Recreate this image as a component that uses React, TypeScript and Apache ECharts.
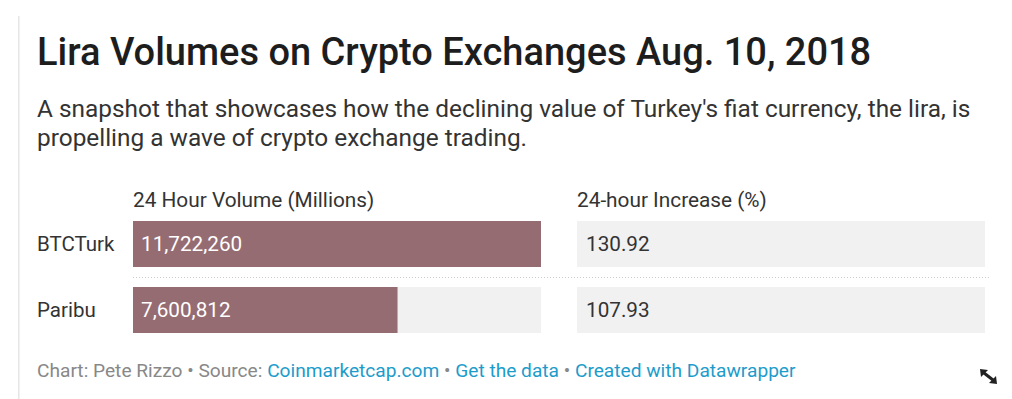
import React, { useEffect, useRef } from "react";
import * as echarts from "echarts";

const categories = ["BTCTurk", "Paribu"];
const volumes = [11722260, 7600812];
const increases = [130.92, 107.93];
const volumeHeader = "24 Hour Volume (Millions)";
const increaseHeader = "24-hour Increase (%)";
const titleText = "Lira Volumes on Crypto Exchanges Aug. 10, 2018";
const subtitleLines = [
  "A snapshot that showcases how the declining value of Turkey's fiat currency, the lira, is",
  "propelling a wave of crypto exchange trading.",
];

const FONT = "Roboto, 'Noto Sans', sans-serif";

export default function App() {
  const ref = useRef<HTMLDivElement>(null);
  useEffect(() => {
    if (!ref.current) return;
    const chart = echarts.init(ref.current, null, { renderer: "svg" });
    const fmt = (v: number) => v.toLocaleString("en-US");
    chart.setOption({
      animation: false,
      backgroundColor: "#ffffff",
      textStyle: { fontFamily: FONT },
      grid: [
        { left: 133, top: 211, width: 408, height: 132 },
        { left: 577, top: 211, width: 408, height: 132 },
      ],
      xAxis: [
        { type: "value", gridIndex: 0, min: 0, max: Math.max(...volumes), show: false },
        { type: "value", gridIndex: 1, min: 0, max: 1000, show: false },
      ],
      yAxis: [
        {
          type: "category",
          gridIndex: 0,
          data: categories,
          inverse: true,
          axisLine: { show: false },
          axisTick: { show: false },
          axisLabel: {
            align: "left",
            margin: 96,
            fontSize: 20.5,
            color: "#333333",
            fontFamily: FONT,
          },
        },
        {
          type: "category",
          gridIndex: 1,
          data: categories,
          inverse: true,
          axisLine: { show: false },
          axisTick: { show: false },
          axisLabel: { show: false },
        },
      ],
      series: [
        {
          type: "bar",
          xAxisIndex: 0,
          yAxisIndex: 0,
          data: volumes,
          barWidth: 46,
          itemStyle: { color: "#966c73" },
          showBackground: true,
          backgroundStyle: { color: "#f1f1f1" },
          label: {
            show: true,
            position: "insideLeft",
            distance: 8,
            color: "#ffffff",
            fontSize: 20.7,
            fontFamily: FONT,
            formatter: (p: any) => fmt(p.value),
          },
        },
        {
          type: "bar",
          xAxisIndex: 1,
          yAxisIndex: 1,
          data: increases,
          barWidth: 46,
          itemStyle: { color: "rgba(0,0,0,0)" },
          showBackground: true,
          backgroundStyle: { color: "#f1f1f1" },
          label: {
            show: true,
            position: "insideLeft",
            distance: 9,
            color: "#333333",
            fontSize: 20.7,
            fontFamily: FONT,
            formatter: (p: any) => p.value.toFixed(2),
          },
        },
      ],
      graphic: [
        {
          type: "rect",
          shape: { x: 18, y: 16, width: 1.5, height: 400 },
          style: { fill: "#e6e6e6" },
          silent: true,
        },
        {
          type: "text",
          x: 37,
          y: 52,
          style: {
            text: titleText,
            font: `500 38px ${FONT}`,
            fill: "#1d1d1d",
            verticalAlign: "middle",
          },
        },
        ...subtitleLines.map((t, i) => ({
          type: "text",
          x: 37,
          y: 108 + i * 29,
          style: {
            text: t,
            font: `400 24.4px ${FONT}`,
            fill: "#333333",
            verticalAlign: "middle",
          },
        })),
        {
          type: "text",
          x: 133,
          y: 200,
          style: {
            text: volumeHeader,
            font: `400 20.8px ${FONT}`,
            fill: "#333333",
            verticalAlign: "middle",
          },
        },
        {
          type: "text",
          x: 577,
          y: 200,
          style: {
            text: increaseHeader,
            font: `400 20.8px ${FONT}`,
            fill: "#333333",
            verticalAlign: "middle",
          },
        },
        {
          type: "line",
          shape: { x1: 133, y1: 277.5, x2: 991, y2: 277.5 },
          style: { stroke: "#cccccc", lineWidth: 1, lineDash: [1, 2] },
          silent: true,
        },
        {
          type: "text",
          x: 37,
          y: 370,
          style: {
            text: "{g|Chart: Pete Rizzo • Source: }{b|Coinmarketcap.com}{g| • }{b|Get the data}{g| • }{b|Created with Datawrapper}",
            font: `400 19.15px ${FONT}`,
            verticalAlign: "middle",
            rich: {
              g: { fill: "#888888", fontSize: 19.15, fontFamily: FONT },
              b: { fill: "#1d9ccb", fontSize: 19.15, fontFamily: FONT },
            },
          },
        },
        {
          type: "line",
          shape: { x1: 984, y1: 373, x2: 993, y2: 380 },
          style: { stroke: "#222222", lineWidth: 3 },
        },
        {
          type: "polygon",
          shape: { points: [[980, 369], [988, 370], [981, 377]] },
          style: { fill: "#222222" },
        },
        {
          type: "polygon",
          shape: { points: [[997, 384], [989, 383], [996, 376]] },
          style: { fill: "#222222" },
        },
      ],
    });
    return () => chart.dispose();
  }, []);
  return (
    <div
      ref={ref}
      style={{ position: "fixed", left: 0, top: 0, width: 1012, height: 399 }}
    />
  );
}
